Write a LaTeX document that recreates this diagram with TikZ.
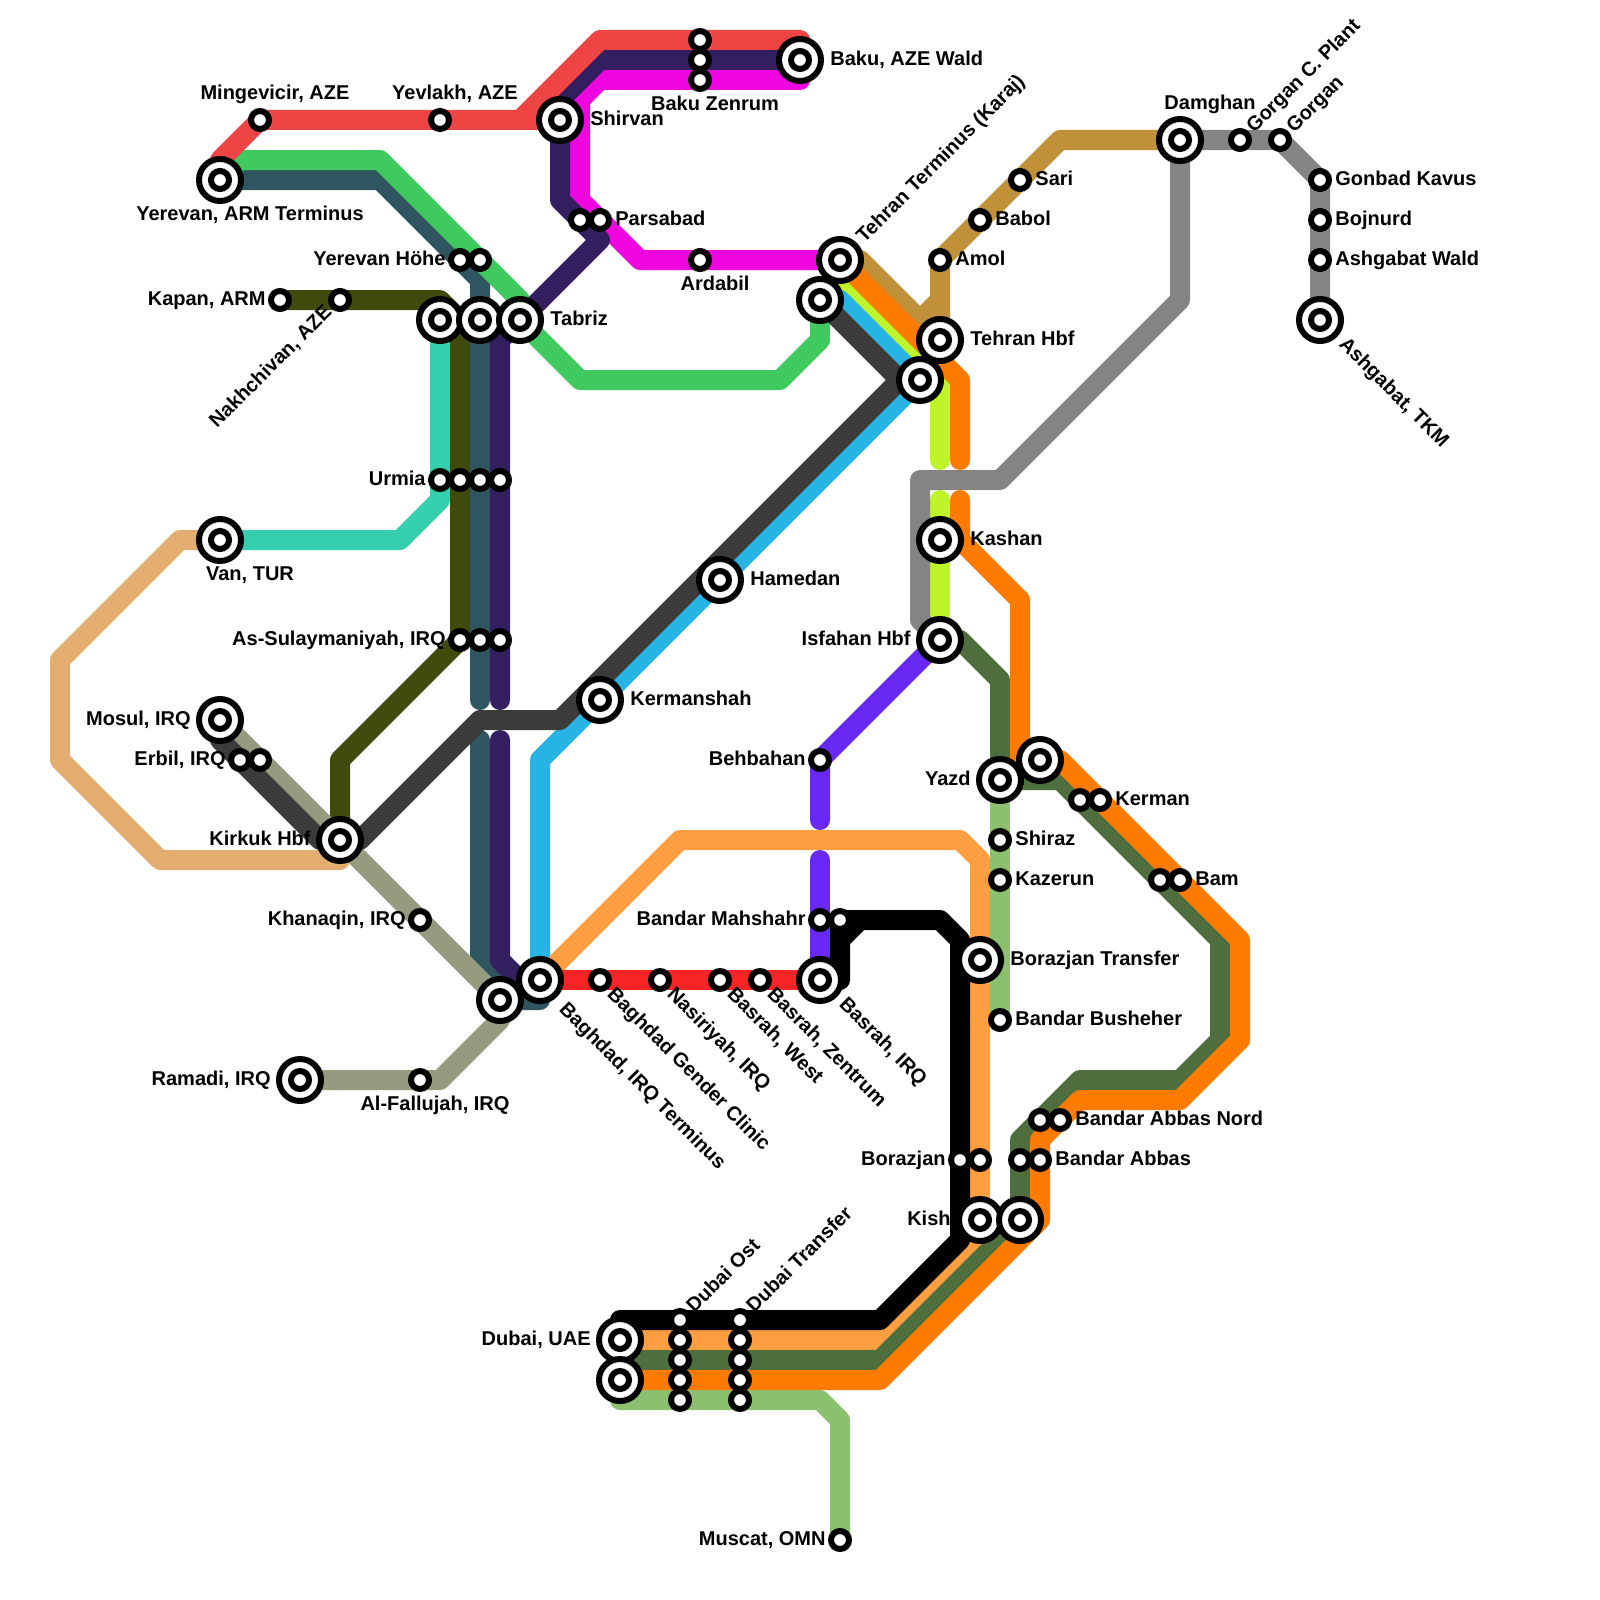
\documentclass[tikz,border=0pt]{standalone}
\usepackage{fontspec}
\setmainfont{Liberation Sans}
\pgfdeclarelayer{lines}
\pgfsetlayers{lines,main}
\definecolor{cred}{HTML}{EF4444}
\definecolor{cgreen}{HTML}{3FC95F}
\definecolor{cteal}{HTML}{2F5560}
\definecolor{colive}{HTML}{3F4A0C}
\definecolor{cturq}{HTML}{35CFAF}
\definecolor{csand}{HTML}{E3AD6F}
\definecolor{ctaupe}{HTML}{969B80}
\definecolor{cdark}{HTML}{3B3B3B}
\definecolor{cblue}{HTML}{28B3E5}
\definecolor{clime}{HTML}{BDF52A}
\definecolor{corange}{HTML}{FF7B00}
\definecolor{clorange}{HTML}{FF9E40}
\definecolor{cdgreen}{HTML}{4E6E3D}
\definecolor{clgreen}{HTML}{8BC06F}
\definecolor{cbred}{HTML}{F62424}
\definecolor{cviolet}{HTML}{6A28F5}
\definecolor{cgray}{HTML}{848484}
\definecolor{cgold}{HTML}{C19139}
\definecolor{cmag}{HTML}{EE05E0}
\definecolor{cpurple}{HTML}{331E5F}
\tikzset{
  ln/.style={line width=10pt,line join=round,line cap=round},
  sm/.style={circle,draw=black,fill=white,line width=3pt,minimum size=9pt,inner sep=0pt},
  bg/.style={circle,draw=black,fill=white,line width=3pt,minimum size=21pt,inner sep=0pt,
    path picture={\draw[black,line width=3pt] (path picture bounding box.center) circle[radius=4.5pt];}},
  txt/.style={font=\fontsize{10}{12}\bfseries\selectfont,inner sep=0pt,text=black},
  lr/.style={txt,anchor=base west},
  ll/.style={txt,anchor=base east,xshift=0.5pt},
  lc/.style={txt,anchor=base},
  lu/.style={txt,anchor=base west,xshift=2pt,yshift=-2pt,rotate=45},
  ld/.style={txt,anchor=base west,xshift=1.5pt,rotate=-45},
  lue/.style={txt,anchor=base east,xshift=-1pt,yshift=-1.5pt,rotate=45}
}
\begin{document}
\begin{tikzpicture}[x=0.5pt,y=-0.5pt]
\useasboundingbox (0,0) rectangle (1600,1600);
% stations
\node[sm] (mingevicir) at (260,120) {};
\node[sm] (yevlakh) at (440,120) {};
\node[bg] (yerevan) at (220,180) {};
\node[bg] (shirvan) at (560,120) {};
\node[bg] (baku) at (800,60) {};
\node[sm] (zenA) at (700,40) {};
\node[sm] (zenB) at (700,60) {};
\node[sm] (zenC) at (700,80) {};
\node[sm] (parsA) at (580,220) {};
\node[sm] (parsB) at (600,220) {};
\node[sm] (ardabil) at (700,260) {};
\node[bg] (tehranT) at (840,260) {};
\node[bg] (tehranU) at (820,300) {};
\node[bg] (tehranH) at (940,340) {};
\node[bg] (tehranL) at (920,380) {};
\node[sm] (amol) at (940,260) {};
\node[sm] (babol) at (980,220) {};
\node[sm] (sari) at (1020,180) {};
\node[bg] (damghan) at (1180,140) {};
\node[sm] (gorganC) at (1240,140) {};
\node[sm] (gorgan) at (1280,140) {};
\node[sm] (gonbad) at (1320,180) {};
\node[sm] (bojnurd) at (1320,220) {};
\node[sm] (ashW) at (1320,260) {};
\node[bg] (ashT) at (1320,320) {};
\node[sm] (hoheA) at (460,260) {};
\node[sm] (hoheB) at (480,260) {};
\node[sm] (kapan) at (280,300) {};
\node[sm] (nakh) at (340,300) {};
\node[bg] (tabA) at (440,320) {};
\node[bg] (tabB) at (480,320) {};
\node[bg] (tabriz) at (520,320) {};
\node[sm] (urmA) at (440,480) {};
\node[sm] (urmB) at (460,480) {};
\node[sm] (urmC) at (480,480) {};
\node[sm] (urmD) at (500,480) {};
\node[bg] (van) at (220,540) {};
\node[sm] (asA) at (460,640) {};
\node[sm] (asB) at (480,640) {};
\node[sm] (asC) at (500,640) {};
\node[bg] (hamedan) at (720,580) {};
\node[bg] (kermanshah) at (600,700) {};
\node[bg] (kashan) at (940,540) {};
\node[bg] (isfahan) at (940,640) {};
\node[bg] (mosul) at (220,720) {};
\node[sm] (erbA) at (240,760) {};
\node[sm] (erbB) at (260,760) {};
\node[bg] (kirkuk) at (340,840) {};
\node[sm] (behbahan) at (820,760) {};
\node[bg] (yazd) at (1000,780) {};
\node[bg] (yazdB) at (1040,760) {};
\node[sm] (shiraz) at (1000,840) {};
\node[sm] (kazerun) at (1000,880) {};
\node[sm] (kermA) at (1080,800) {};
\node[sm] (kermB) at (1100,800) {};
\node[sm] (bamA) at (1160,880) {};
\node[sm] (bamB) at (1180,880) {};
\node[sm] (khanaqin) at (420,920) {};
\node[sm] (mahA) at (820,920) {};
\node[sm] (mahB) at (840,920) {};
\node[bg] (borT) at (980,960) {};
\node[sm] (busheher) at (1000,1020) {};
\node[bg] (baghU) at (500,1000) {};
\node[bg] (baghdad) at (540,980) {};
\node[sm] (gender) at (600,980) {};
\node[sm] (nasiriyah) at (660,980) {};
\node[sm] (basW) at (720,980) {};
\node[sm] (basZ) at (760,980) {};
\node[bg] (basrah) at (820,980) {};
\node[bg] (ramadi) at (300,1080) {};
\node[sm] (fallujah) at (420,1080) {};
\node[sm] (nordA) at (1040,1120) {};
\node[sm] (nordB) at (1060,1120) {};
\node[sm] (abbA) at (1020,1160) {};
\node[sm] (abbB) at (1040,1160) {};
\node[sm] (borA) at (960,1160) {};
\node[sm] (borB) at (980,1160) {};
\node[bg] (kish) at (980,1220) {};
\node[bg] (kishB) at (1020,1220) {};
\node[bg] (dubai) at (620,1340) {};
\node[bg] (dubaiB) at (620,1380) {};
\node[sm] (ostA) at (680,1320) {};
\node[sm] (ostB) at (680,1340) {};
\node[sm] (ostC) at (680,1360) {};
\node[sm] (ostD) at (680,1380) {};
\node[sm] (ostE) at (680,1400) {};
\node[sm] (traA) at (740,1320) {};
\node[sm] (traB) at (740,1340) {};
\node[sm] (traC) at (740,1360) {};
\node[sm] (traD) at (740,1380) {};
\node[sm] (traE) at (740,1400) {};
\node[sm] (muscat) at (840,1540) {};
% labels
\node[lc] (lMing) at (275,100) {Mingevicir, AZE};
\node[lc] (lYev) at (455,100) {Yevlakh, AZE};
\node[lc] (lYer) at (250,220) {Yerevan, ARM Terminus};
\node[lr] (lShi) at (590,125.5) {Shirvan};
\node[lr] (lBaku) at (830,65.5) {Baku, AZE Wald};
\node[lc] (lZen) at (715,111) {Baku Zenrum};
\node[lr] (lPar) at (615,225) {Parsabad};
\node[lc] (lArd) at (715,290) {Ardabil};
\node[lu] (lTeh) at (860,240) {Tehran Terminus (Karaj)};
\node[lr] (lHbf) at (970,345) {Tehran Hbf};
\node[lr] (lAmol) at (955,265) {Amol};
\node[lr] (lBab) at (995,225) {Babol};
\node[lr] (lSari) at (1035,185) {Sari};
\node[lc] (lDam) at (1210,110) {Damghan};
\node[lu] (lGorC) at (1250,130) {Gorgan C. Plant};
\node[lu] (lGor) at (1290,130) {Gorgan};
\node[lr] (lGon) at (1335,185) {Gonbad Kavus};
\node[lr] (lBoj) at (1335,225) {Bojnurd};
\node[lr] (lAshW) at (1335,265) {Ashgabat Wald};
\node[ld] (lAshT) at (1335,345) {Ashgabat, TKM};
\node[ll] (lHoh) at (445,265) {Yerevan Höhe};
\node[ll] (lKap) at (265,305) {Kapan, ARM};
\node[lue] (lNak) at (335,310) {Nakhchivan, AZE};
\node[lr] (lTab) at (550,325) {Tabriz};
\node[ll] (lUrm) at (425,485) {Urmia};
\node[lc] (lVan) at (250,580) {Van, TUR};
\node[ll] (lAs) at (445,645) {As-Sulaymaniyah, IRQ};
\node[lr] (lHam) at (750,585) {Hamedan};
\node[lr] (lKer) at (630,705) {Kermanshah};
\node[lr] (lKas) at (970,545) {Kashan};
\node[ll] (lIsf) at (910,645) {Isfahan Hbf};
\node[ll] (lMos) at (190,725) {Mosul, IRQ};
\node[ll] (lErb) at (225,765) {Erbil, IRQ};
\node[ll] (lKir) at (310,845) {Kirkuk Hbf};
\node[ll] (lBeh) at (805,765) {Behbahan};
\node[ll] (lYaz) at (970,785) {Yazd};
\node[lr] (lShz) at (1015,845) {Shiraz};
\node[lr] (lKaz) at (1015,885) {Kazerun};
\node[lr] (lKrm) at (1115,805) {Kerman};
\node[lr] (lBam) at (1195,885) {Bam};
\node[ll] (lKha) at (405,925) {Khanaqin, IRQ};
\node[ll] (lMah) at (805,925) {Bandar Mahshahr};
\node[lr] (lBorT) at (1010,965) {Borazjan Transfer};
\node[lr] (lBus) at (1015,1025) {Bandar Busheher};
\node[ld] (lBag) at (555,1010) {Baghdad, IRQ Terminus};
\node[ld] (lGen) at (603,995) {Baghdad Gender Clinic};
\node[ld] (lNas) at (663,995) {Nasiriyah, IRQ};
\node[ld] (lBasW) at (723,995) {Basrah, West};
\node[ld] (lBasZ) at (763,995) {Basrah, Zentrum};
\node[ld] (lBas) at (835,1005) {Basrah, IRQ};
\node[ll] (lRam) at (270,1085) {Ramadi, IRQ};
\node[lc] (lFal) at (435,1110) {Al-Fallujah, IRQ};
\node[lr] (lNord) at (1075,1125) {Bandar Abbas Nord};
\node[lr] (lAbb) at (1055,1165) {Bandar Abbas};
\node[ll] (lBor) at (945,1165) {Borazjan};
\node[ll] (lKish) at (950,1225) {Kish};
\node[ll] (lDub) at (590,1345) {Dubai, UAE};
\node[lu] (lOst) at (690,1310) {Dubai Ost};
\node[lu] (lTra) at (750,1310) {Dubai Transfer};
\node[ll] (lMus) at (825,1545) {Muscat, OMN};
% lines
\begin{pgfonlayer}{lines}
\draw[ln,csand] (van.center) -- (180,540) -- (60,660) -- (60,760) -- (160,860) -- (340,860) -- (kirkuk.center);
\draw[ln,cturq] (tabA.center) -- (440,500) -- (400,540) -- (van.center);
\draw[ln,cteal] (yerevan.center) -- (380,180) -- (480,280) -- (asB.center) -- (480,700);
\draw[ln,cteal] (480,740) -- (480,960) -- (520,1000) -- (540,1000) -- (baghdad.center);
\draw[ln,cgreen] (yerevan.center) -- (240,160) -- (380,160) -- (520,300) -- (tabriz.center) -- (580,380) -- (780,380) -- (820,340) -- (tehranU.center);
\draw[ln,colive] (kapan.center) -- (440,300) -- (460,320) -- (asA.center) -- (340,760) -- (kirkuk.center);
\draw[ln,ctaupe] (mosul.center) -- (baghU.center) -- (500,1020) -- (440,1080) -- (ramadi.center);
\draw[ln,cgold] (damghan.center) -- (1060,140) -- (amol.center) -- (tehranH.center);
\draw[ln,cgold] (tehranT.center) -- (860,260) -- (920,320) -- (940,300);
\draw[ln,clime] (tehranT.center) -- (840,280) -- (940,380) -- (940,460);
\draw[ln,clime] (940,500) -- (isfahan.center);
\draw[ln,cblue] (tehranU.center) -- (840,300) -- (tehranL.center) -- (540,760) -- (baghdad.center);
\draw[ln,cdark] (mosul.center) -- (220,740) -- (320,840) -- (kirkuk.center) -- (360,840) -- (480,720) -- (560,720) -- (900,380) -- (tehranU.center);
\draw[ln,cdark] (900,380) -- (tehranL.center);
\draw[ln,cmag] (baku.center) -- (800,80) -- (600,80) -- (580,100) -- (580,200) -- (640,260) -- (tehranT.center);
\draw[ln,cpurple] (baku.center) -- (600,60) -- (560,100) -- (560,200) -- (600,240) -- (tabriz.center) -- (500,340) -- (500,700);
\draw[ln,cpurple] (500,740) -- (500,960) -- (520,980) -- (baghdad.center);
\draw[ln,cred] (yerevan.center) -- (220,160) -- (mingevicir.center) -- (shirvan.center);
\draw[ln,cred] (520,120) -- (600,40) -- (800,40) -- (baku.center);
\draw[ln,cgray] (damghan.center) -- (gorgan.center) -- (gonbad.center) -- (ashT.center);
\draw[ln,cgray] (damghan.center) -- (1180,300) -- (1000,480) -- (920,480) -- (920,620) -- (isfahan.center);
\draw[ln,clorange] (baghdad.center) -- (680,840) -- (960,840) -- (980,860) -- (980,1240) -- (880,1340) -- (dubai.center);
\draw[ln,cdgreen] (isfahan.center) -- (960,640) -- (1000,680) -- (yazd.center) -- (1060,780) -- (1220,940) -- (1220,1040) -- (1180,1080) -- (1080,1080) -- (1020,1140) -- (kishB.center) -- (880,1360) -- (620,1360);
\draw[ln,clgreen] (yazd.center) -- (busheher.center);
\draw[ln,clgreen] (dubaiB.center) -- (620,1400) -- (820,1400) -- (840,1420) -- (muscat.center);
\draw[ln,black] (basrah.center) -- (840,980) -- (mahB.center) -- (940,920) -- (960,940) -- (960,1240) -- (880,1320) -- (620,1320) -- (dubai.center);
\draw[ln,black] (840,940) -- (860,920);
\draw[ln,corange] (tehranT.center) -- (960,380) -- (960,460);
\draw[ln,corange] (960,500) -- (960,540) -- (1020,600) -- (1020,760) -- (1060,760) -- (1240,940) -- (1240,1040) -- (1180,1100) -- (1080,1100) -- (1040,1140) -- (1040,1220) -- (880,1380) -- (dubaiB.center);
\draw[ln,cbred] (baghdad.center) -- (basrah.center);
\draw[ln,cviolet] (isfahan.center) -- (behbahan.center) -- (820,820);
\draw[ln,cviolet] (820,860) -- (basrah.center);
\end{pgfonlayer}
\end{tikzpicture}
\end{document}
